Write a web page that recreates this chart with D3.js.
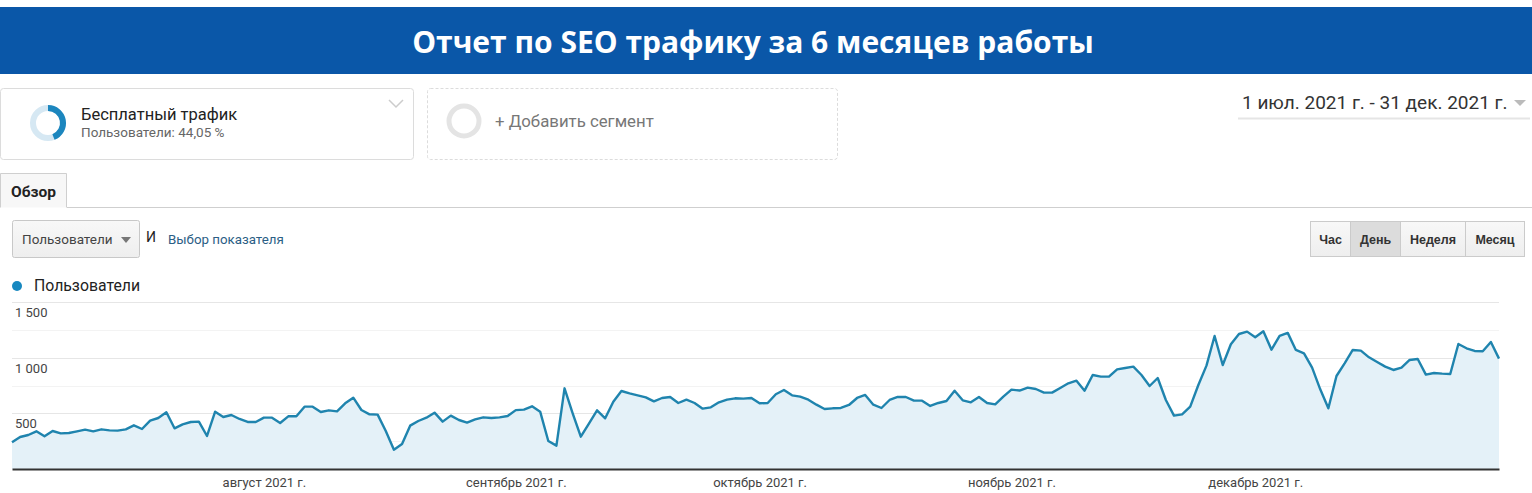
<!DOCTYPE html>
<html lang="ru">
<head>
<meta charset="utf-8">
<script src="https://cdnjs.cloudflare.com/ajax/libs/d3/7.8.5/d3.min.js"></script>
<style>
  html, body { margin: 0; padding: 0; background: #fff; overflow: hidden; }
  svg { display: block; font-family: Roboto, Arial, sans-serif; }
</style>
</head>
<body>
<script>
// daily users, 1 jul - 31 dec 2021
const julyUsers = [240, 288, 306, 339, 294, 342, 321, 324, 339, 354, 339, 357, 348, 345, 357, 393,
  360, 435, 459, 510, 366, 402, 423, 426, 297, 516, 468, 486, 450, 423, 423];
const augustUsers = [462, 462, 414, 474, 474, 561, 561, 513, 528, 519, 591, 642, 531, 492, 489, 342,
  174, 225, 390, 432, 462, 507, 426, 480, 441, 417, 447, 465, 459, 465, 477];
const septemberUsers = [530, 534, 564, 516, 252, 210, 726, 501, 291, 408, 528, 456, 606, 702, 681,
  663, 645, 609, 639, 648, 594, 624, 594, 543, 555, 600, 624, 636, 633, 639];
const octoberUsers = [591, 594, 673, 711, 663, 651, 624, 579, 540, 546, 549, 576, 639, 666, 579, 549,
  621, 648, 648, 615, 615, 567, 594, 612, 705, 618, 600, 648, 594, 582, 651];
const novemberUsers = [714, 706, 732, 720, 687, 687, 729, 771, 795, 705, 846, 831, 831, 897, 909,
  921, 846, 747, 819, 621, 480, 492, 561, 756, 930, 1197, 936, 1122, 1215, 1236];
const decemberUsers = [1185, 1239, 1074, 1197, 1225, 1071, 1041, 912, 717, 546, 837, 951, 1071, 1065,
  1005, 963, 921, 891, 912, 981, 990, 849, 864, 858, 855, 1125, 1086, 1062, 1059, 1143, 993];

const monthLabels = ['август 2021 г.', 'сентябрь 2021 г.', 'октябрь 2021 г.', 'ноябрь 2021 г.', 'декабрь 2021 г.'];
const yTicks = [500, 1000, 1500];
const yTickLabels = ['500', '1 000', '1 500'];
const yMinorTicks = [250, 750, 1250];
const periodButtons = ['Час', 'День', 'Неделя', 'Месяц'];

const w = 1532;
const h = 493;

const users = [].concat(julyUsers, augustUsers, septemberUsers, octoberUsers, novemberUsers, decemberUsers);
const start = new Date(2021, 6, 1);
const data = users.map((v, i) => ({ date: d3.timeDay.offset(start, i), value: v }));
const monthStarts = monthLabels.map((m, i) => new Date(2021, 7 + i, 1));

const svg = d3.select('body').append('svg')
  .attr('width', w)
  .attr('height', h);

// title band
svg.append('rect')
  .attr('x', 0).attr('y', 7).attr('width', w).attr('height', 67)
  .attr('fill', '#0a57a8');
svg.append('text')
  .attr('x', 753).attr('y', 53)
  .attr('text-anchor', 'middle')
  .attr('fill', '#fff')
  .style('font-family', '"Open Sans", sans-serif')
  .style('font-weight', 700)
  .style('font-size', '30px')
  .text('Отчет по SEO трафику за 6 месяцев работы');

// segment card
svg.append('rect')
  .attr('x', 0.5).attr('y', 88.5).attr('width', 413).attr('height', 71).attr('rx', 3)
  .attr('fill', '#fff').attr('stroke', '#dcdcdc');
const donut = svg.append('g').attr('transform', 'translate(48,123)');
donut.append('circle').attr('r', 15).attr('fill', 'none')
  .attr('stroke', '#d6e8f3').attr('stroke-width', 6);
donut.append('path')
  .attr('d', d3.arc().innerRadius(12).outerRadius(18).startAngle(0).endAngle(2 * Math.PI * 0.4405)())
  .attr('fill', '#1c86be');
svg.append('text').attr('x', 81).attr('y', 120)
  .style('font-size', '16.5px').attr('fill', '#222').text('Бесплатный трафик');
svg.append('text').attr('x', 81).attr('y', 137)
  .style('font-size', '13.5px').attr('fill', '#666').text('Пользователи: 44,05 %');
svg.append('path').attr('d', 'M389,100 L396,107 L403,100')
  .attr('fill', 'none').attr('stroke', '#ccc').attr('stroke-width', 1.5);

// add segment card
svg.append('rect')
  .attr('x', 427.5).attr('y', 88.5).attr('width', 410).attr('height', 71).attr('rx', 3)
  .attr('fill', '#fff').attr('stroke', '#dcdcdc').attr('stroke-dasharray', '3,2');
svg.append('circle').attr('cx', 464).attr('cy', 121).attr('r', 15)
  .attr('fill', 'none').attr('stroke', '#e4e4e4').attr('stroke-width', 5);
svg.append('text').attr('x', 495).attr('y', 127)
  .style('font-size', '16.8px').attr('fill', '#777').text('+ Добавить сегмент');

// date range
svg.append('text').attr('x', 1242).attr('y', 109)
  .style('font-size', '19px').attr('fill', '#333').text('1 июл. 2021 г. - 31 дек. 2021 г.');
svg.append('path').attr('d', 'M1514,100 L1526,100 L1520,106 Z').attr('fill', '#bbb');
svg.append('line').attr('x1', 1238).attr('x2', 1530).attr('y1', 118.5).attr('y2', 118.5)
  .attr('stroke', '#e5e5e5').attr('stroke-width', 2);

// tab
svg.append('line').attr('x1', 67).attr('x2', w).attr('y1', 207.5).attr('y2', 207.5)
  .attr('stroke', '#cfcfcf');
svg.append('path').attr('d', 'M0.5,207.5 L0.5,173.5 L66.5,173.5 L66.5,207.5')
  .attr('fill', '#f7f7f7').attr('stroke', '#cfcfcf');
svg.append('text').attr('x', 11).attr('y', 197)
  .style('font-size', '15.5px').style('font-weight', 700).attr('fill', '#222').text('Обзор');

// metric selector
const grad = svg.append('defs').append('linearGradient')
  .attr('id', 'btn').attr('x1', 0).attr('x2', 0).attr('y1', 0).attr('y2', 1);
grad.append('stop').attr('offset', '0%').attr('stop-color', '#f8f8f8');
grad.append('stop').attr('offset', '100%').attr('stop-color', '#eeeeee');
svg.append('rect').attr('x', 12.5).attr('y', 220.5).attr('width', 127).attr('height', 37).attr('rx', 2)
  .attr('fill', 'url(#btn)').attr('stroke', '#c8c8c8');
svg.append('text').attr('x', 22).attr('y', 244)
  .style('font-size', '13.5px').attr('fill', '#444').text('Пользователи');
svg.append('path').attr('d', 'M121,237 L131,237 L126,243 Z').attr('fill', '#777');
svg.append('text').attr('x', 146).attr('y', 242)
  .style('font-size', '14px').attr('fill', '#222').text('И');
svg.append('text').attr('x', 168).attr('y', 244)
  .style('font-size', '13.3px').attr('fill', '#2b5e85').text('Выбор показателя');

// period buttons
const btnX = [1310, 1350, 1400, 1465, 1524];
const btns = svg.append('g');
btns.selectAll('rect')
  .data(periodButtons)
  .enter()
  .append('rect')
  .attr('x', (d, i) => btnX[i] + 0.5)
  .attr('y', 221.5)
  .attr('width', (d, i) => btnX[i + 1] - btnX[i])
  .attr('height', 35)
  .attr('fill', d => d === 'День' ? '#dcdcdc' : 'url(#btn)')
  .attr('stroke', '#cbcbcb');
btns.selectAll('text')
  .data(periodButtons)
  .enter()
  .append('text')
  .attr('x', (d, i) => (btnX[i] + btnX[i + 1]) / 2 + 0.5)
  .attr('y', 244)
  .attr('text-anchor', 'middle')
  .style('font-family', '"Liberation Sans", Arial, sans-serif')
  .style('font-size', '12.5px')
  .style('font-weight', 700)
  .attr('fill', '#333')
  .text(d => d);

// legend
svg.append('circle').attr('cx', 17).attr('cy', 286).attr('r', 5).attr('fill', '#1788c0');
svg.append('text').attr('x', 34).attr('y', 291)
  .style('font-size', '15.8px').attr('fill', '#222').text('Пользователи');

// chart
const xScale = d3.scaleTime()
  .domain([start, data[data.length - 1].date])
  .range([12, 1499]);
const yScale = d3.scaleLinear()
  .domain([0, 1500])
  .range([469, 302.3]);

const chart = svg.append('g');

chart.selectAll('line.minor')
  .data(yMinorTicks)
  .enter()
  .append('line')
  .attr('class', 'minor')
  .attr('x1', 12).attr('x2', 1499)
  .attr('y1', d => Math.round(yScale(d)) + 0.5)
  .attr('y2', d => Math.round(yScale(d)) + 0.5)
  .attr('stroke', '#f3f3f3');

chart.selectAll('line.major')
  .data(yTicks)
  .enter()
  .append('line')
  .attr('class', 'major')
  .attr('x1', 12).attr('x2', 1499)
  .attr('y1', d => Math.round(yScale(d)) + 0.5)
  .attr('y2', d => Math.round(yScale(d)) + 0.5)
  .attr('stroke', '#e6e6e6');

const area = d3.area()
  .x(d => xScale(d.date))
  .y0(yScale(0))
  .y1(d => yScale(d.value));
const line = d3.line()
  .x(d => xScale(d.date))
  .y(d => yScale(d.value));

chart.append('path')
  .datum(data)
  .attr('d', area)
  .attr('fill', '#e4f1f8');

chart.append('path')
  .datum(data)
  .attr('d', line)
  .attr('fill', 'none')
  .attr('stroke', '#1f84ae')
  .attr('stroke-width', 2.4)
  .attr('stroke-linejoin', 'round');

chart.selectAll('text.ylab')
  .data(yTicks)
  .enter()
  .append('text')
  .attr('class', 'ylab')
  .attr('x', 15)
  .attr('y', d => yScale(d) + 15)
  .style('font-size', '13px')
  .attr('fill', '#444')
  .text((d, i) => yTickLabels[i]);

const xAxis = d3.axisBottom(xScale)
  .tickValues(monthStarts)
  .tickSize(0)
  .tickPadding(9)
  .tickFormat((d, i) => monthLabels[i]);
chart.append('g')
  .attr('id', 'x-axis')
  .attr('transform', 'translate(0,469)')
  .call(xAxis)
  .call(g => g.select('.domain').attr('stroke', '#333').attr('stroke-width', 2))
  .call(g => g.selectAll('.tick text')
    .style('font-family', 'Roboto, Arial, sans-serif')
    .style('font-size', '13px')
    .attr('fill', '#444'));
</script>
</body>
</html>
